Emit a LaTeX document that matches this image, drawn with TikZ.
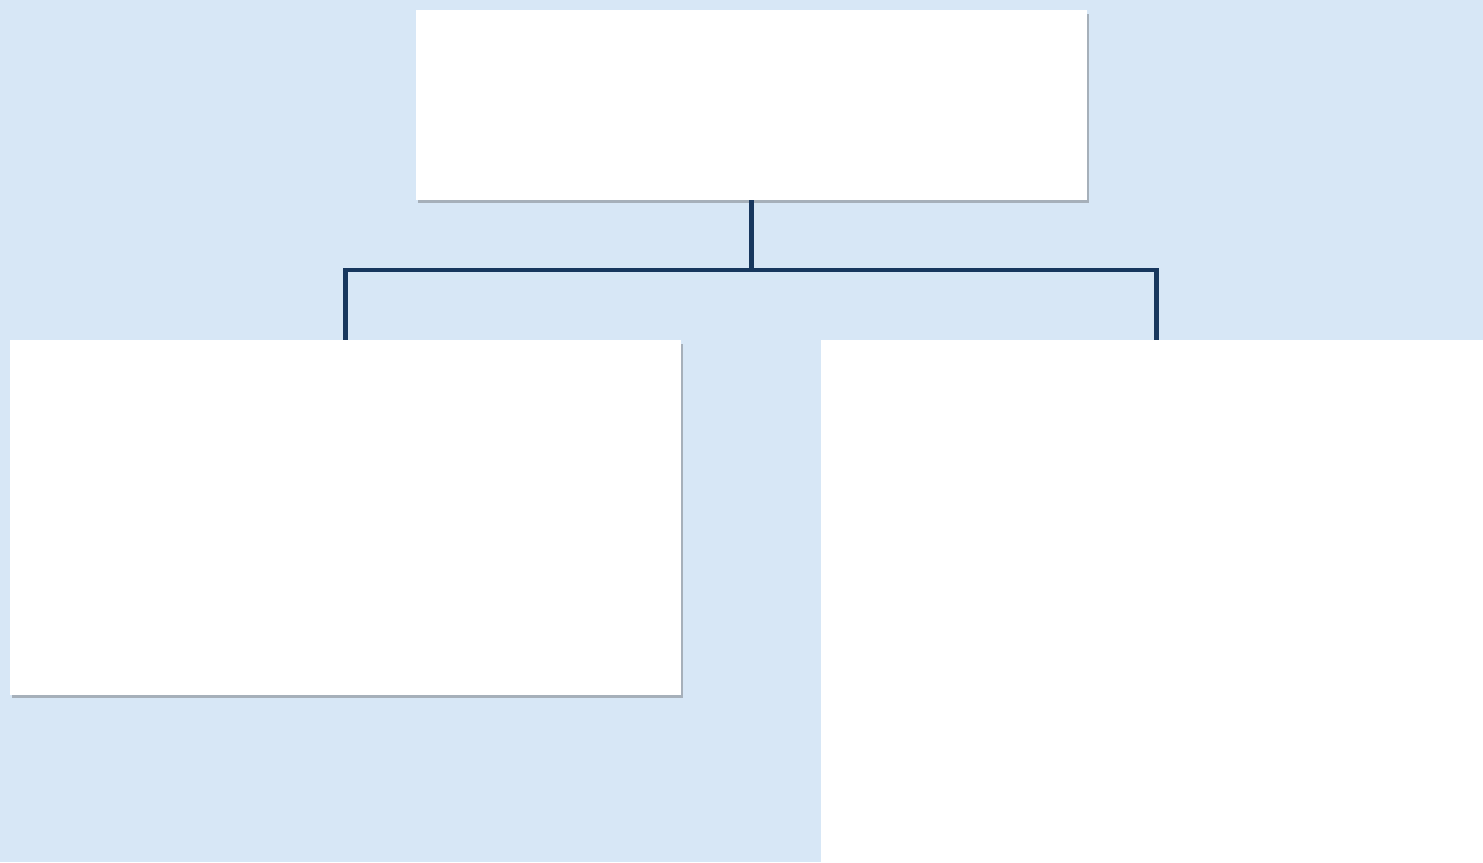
\documentclass[tikz,border=0pt]{standalone}
\usetikzlibrary{shadows}

\definecolor{paleblue}{HTML}{D7E7F6}
\definecolor{navy}{HTML}{17375E}

\tikzset{
box/.style={
fill=white,
draw=none,
drop shadow={shadow xshift=1.2pt, shadow yshift=-2pt, opacity=0.35, fill=black!70}
},
link/.style={draw=navy, line width=2.4pt}
}

\begin{document}
\begin{tikzpicture}[x=0.02cm, y=-0.02cm]

\fill[paleblue] (0,0) rectangle (1483,862);
\useasboundingbox (0,0) rectangle (1483,862);
\clip (0,0) rectangle (1483,862);

\node[box, minimum width=13.42cm, minimum height=3.8cm] (top) at (751.5,105) {};

\node[box, minimum width=13.42cm, minimum height=7.1cm] (left) at (345.5,517.5) {};
\node[box, minimum width=13.42cm, minimum height=11.2cm] (right) at (1156.5,620) {};

\draw[link] (top.south) -- ++(0,70) -| (left.north);
\draw[link] (top.south) -- ++(0,70) -| (right.north);

\end{tikzpicture}
\end{document}
